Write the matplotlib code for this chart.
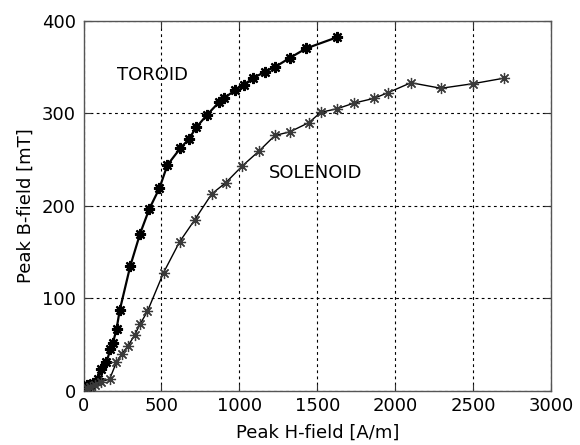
import matplotlib
matplotlib.use("Agg")
import matplotlib.pyplot as plt

toroid_h = [20, 40, 60, 95, 115, 147, 172, 189, 212, 232, 300, 363, 423, 487, 538,
            620, 675, 725, 791, 870, 900, 973, 1030, 1090, 1165, 1229, 1326, 1428, 1625]
toroid_b = [6, 7, 9, 13, 24, 31, 45, 52, 67, 87, 135, 170, 197, 219, 244,
            262, 272, 285, 298, 312, 316, 325, 331, 338, 345, 350, 360, 370, 382]

solenoid_h = [20, 40, 72, 114, 168, 211, 245, 287, 330, 362, 410, 514, 616, 714, 823,
              913, 1018, 1125, 1228, 1325, 1447, 1522, 1629, 1736, 1861, 1951, 2101,
              2294, 2501, 2701]
solenoid_b = [3, 4, 7, 10, 13, 31, 40, 49, 61, 72, 86, 128, 161, 185, 213,
              225, 243, 259, 276, 280, 290, 301, 305, 311, 316, 322, 333,
              327, 332, 338]

x_ticks = [0, 500, 1000, 1500, 2000, 2500, 3000]
y_ticks = [0, 100, 200, 300, 400]

plt.rcParams['font.family'] = ['DejaVu Sans']

FS = 13

fig = plt.figure(figsize=(5.8, 4.45), dpi=100)
ax = fig.add_axes([0.144, 0.1213, 0.806, 0.8322])

ast = (8, 2, 0)
ax.plot(toroid_h, toroid_b, '-', color='black', lw=1.6, marker=ast, ms=8, mew=1.6, zorder=3)
ax.plot(solenoid_h, solenoid_b, '-', color='black', lw=1.0, marker=ast, ms=8, mew=0.9,
        mec='#3a3a3a', zorder=3)

ax.set_xlim(0, 3000)
ax.set_ylim(0, 400)
ax.set_xticks(x_ticks)
ax.set_yticks(y_ticks)
ax.grid(True, color='black', linestyle=(0, (2.5, 3)), linewidth=0.8)
ax.tick_params(direction='in', top=True, right=True, length=5, labelsize=FS,
               color='#333333')
ax.tick_params(axis='x', pad=4)
ax.tick_params(axis='y', pad=5.5)
for s in ax.spines.values():
    s.set_color('#555555')
    s.set_linewidth(1.0)

ax.set_xlabel('Peak H-field [A/m]', fontsize=FS, labelpad=6.5)
ax.set_ylabel('Peak B-field [mT]', fontsize=FS, labelpad=5.5)

ax.text(442, 341, 'TOROID', fontsize=FS, va='center', ha='center')
ax.text(1489, 235, 'SOLENOID', fontsize=FS, va='center', ha='center')

fig.savefig('out.png', dpi=100)
